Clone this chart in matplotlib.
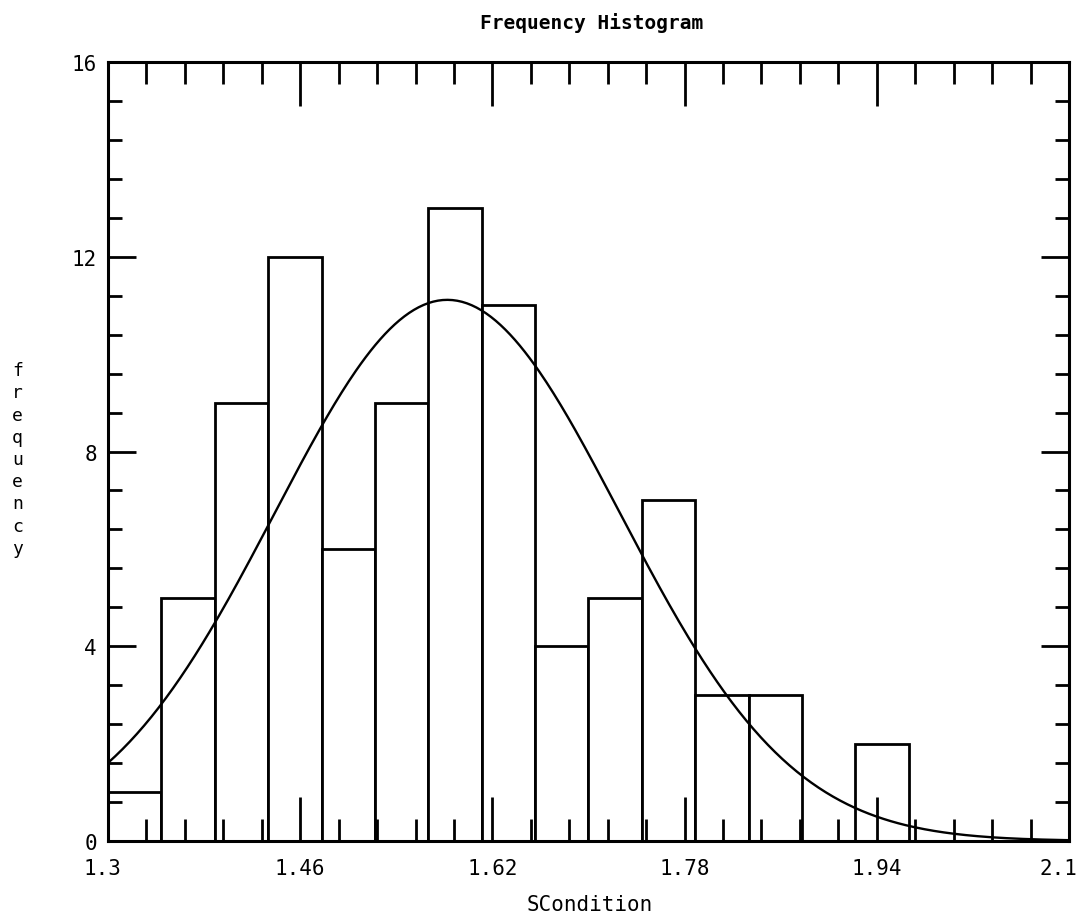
import numpy as np
import matplotlib
matplotlib.use("Agg")
import matplotlib.pyplot as plt
import matplotlib.transforms as mtransforms
from matplotlib.ticker import FixedLocator

# Histogram data: 18 equal bins spanning 1.3 .. 2.1
bin_lo = 1.3
bin_hi = 2.1
counts = [1, 5, 9, 12, 6, 9, 13, 11, 4, 5, 7, 3, 3, 0, 2, 0, 0, 0]
x_ticks = [1.3, 1.46, 1.62, 1.78, 1.94, 2.1]
x_tick_labels = ["1.3", "1.46", "1.62", "1.78", "1.94", "2.1"]
y_ticks = [0, 4, 8, 12, 16]

counts = np.array(counts, dtype=float)
edges = np.linspace(bin_lo, bin_hi, len(counts) + 1)
width = edges[1] - edges[0]
centers = edges[:-1] + width / 2

# Normal curve fitted to the binned data, scaled to frequency
n = counts.sum()
mu = (counts * centers).sum() / n
sd = np.sqrt((counts * (centers - mu) ** 2).sum() / n)
xs = np.linspace(bin_lo, bin_hi, 400)
ys = n * width / (sd * np.sqrt(2 * np.pi)) * np.exp(-0.5 * ((xs - mu) / sd) ** 2)

mono = "DejaVu Sans Mono"
plt.rcParams["font.family"] = mono

fig = plt.figure(figsize=(10.79, 9.20), dpi=100)
ax = fig.add_axes([0.1001, 0.0848, 0.8906, 0.8467])

ax.bar(edges[:-1], counts, width=width, align="edge", facecolor="white",
       edgecolor="black", linewidth=2.0, zorder=1)
ax.plot(xs, ys, color="black", linewidth=1.7, zorder=3)
ax.set_axisbelow(False)

ax.set_xlim(bin_lo, bin_hi)
ax.set_ylim(0, 16)

for s in ax.spines.values():
    s.set_linewidth(2.2)
    s.set_zorder(4)

ax.set_xticks(x_ticks)
ax.set_xticklabels(x_tick_labels)
ax.xaxis.set_minor_locator(FixedLocator(np.arange(bin_lo, bin_hi + 1e-9, 0.032)))
ax.set_yticks(y_ticks)
ax.yaxis.set_minor_locator(FixedLocator(np.arange(0, 16 + 1e-9, 0.8)))

ax.tick_params(axis="x", which="major", direction="in", length=32, width=2,
               top=True, bottom=True, labelsize=15, pad=12)
ax.tick_params(axis="x", which="minor", direction="in", length=16, width=2,
               top=True, bottom=True)
ax.tick_params(axis="y", which="major", direction="in", length=20, width=2,
               left=True, right=True, labelsize=15, pad=8)
ax.tick_params(axis="y", which="minor", direction="in", length=10, width=2,
               left=True, right=True)

# Nudge the end labels so they stay inside the canvas
xlabels = ax.get_xticklabels()
xlabels[0].set_transform(xlabels[0].get_transform() +
                         mtransforms.ScaledTranslation(-6 / 100, 0, fig.dpi_scale_trans))
xlabels[-1].set_horizontalalignment("right")
xlabels[-1].set_transform(xlabels[-1].get_transform() +
                          mtransforms.ScaledTranslation(8 / 100, 0, fig.dpi_scale_trans))

fig.text(0.548, 0.975, "Frequency Histogram", ha="center", va="center",
         fontsize=14, fontweight="bold", family=mono)
fig.text(0.547, 0.016, "SCondition", ha="center", va="center",
         fontsize=15, family=mono)
fig.text(0.016, 0.5, "\n".join("frequency"), ha="center", va="center",
         fontsize=13, family=mono, linespacing=1.3)

fig.savefig("out.png", dpi=100, facecolor="white")
